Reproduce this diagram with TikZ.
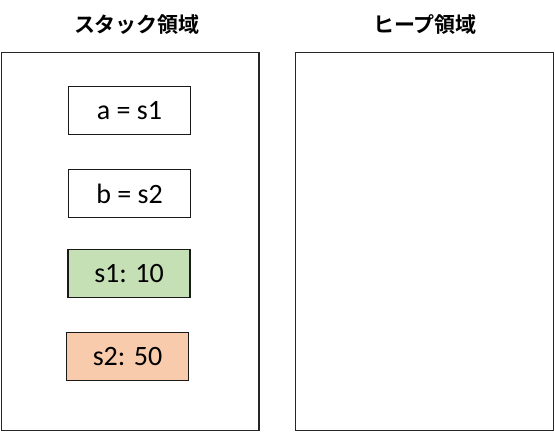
\documentclass[tikz,border=0pt]{standalone}
\usepackage{fontspec}
\setmainfont{Carlito}
\newfontfamily\jpfont{Noto Sans CJK JP}[BoldFont={* Bold}]
\definecolor{lgreen}{HTML}{C5E0B4}
\definecolor{lorange}{HTML}{F8CBAD}
\begin{document}
\begin{tikzpicture}[x=1pt,y=-1pt,
  area/.style={draw=black!85,line width=1.5pt},
  cell/.style={draw=black!90,line width=1.2pt,minimum width=122pt,minimum height=48pt,inner sep=0pt,font=\fontsize{28}{30}\selectfont},
  title/.style={font=\jpfont\bfseries\fontsize{21}{24}\selectfont}]
\useasboundingbox (0,0) rectangle (555,432);
\draw[area] (1.5,52.5) rectangle (259,430.5);
\draw[area] (295.5,52.5) rectangle (553.5,430.5);
\node[title] (t1) at (137,25) {スタック領域};
\node[title] (t2) at (425,25) {ヒープ領域};
\node[cell] (a) at (129.5,110.5) {a = s1};
\node[cell] (b) at (129.5,193.5) {b = s2};
\node[cell,fill=lgreen] (s1) at (129,273.5) {s1: 10};
\node[cell,fill=lorange] (s2) at (127.5,356.5) {s2: 50};
\end{tikzpicture}
\end{document}
